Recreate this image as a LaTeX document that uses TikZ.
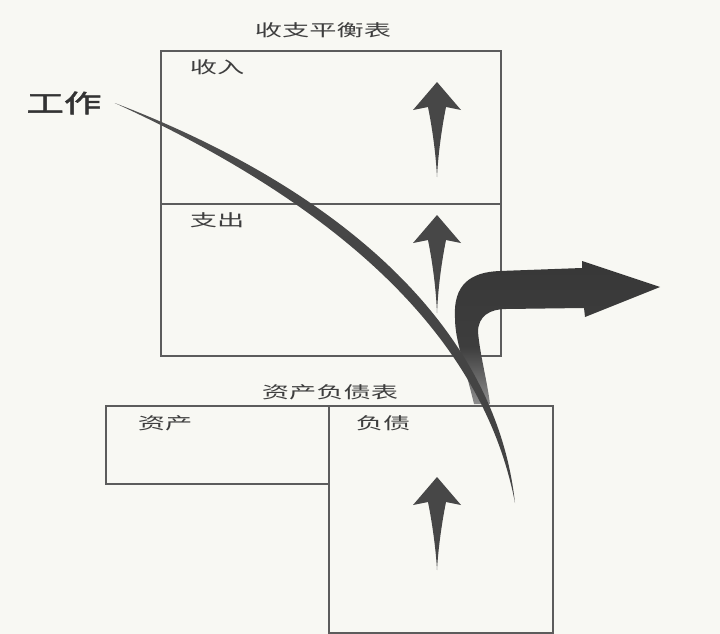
\documentclass[tikz,border=0pt]{standalone}
\usepackage{fontspec}
\usepackage{tikz}
\usetikzlibrary{positioning}
\newfontfamily\cjk[FakeStretch=1.65]{Noto Sans CJK SC}
\newfontfamily\cjkbold[FakeStretch=1.5,FakeBold=2]{Noto Sans CJK SC}
\definecolor{paper}{HTML}{F8F8F3}
\definecolor{ink}{HTML}{3E3E3E}
\definecolor{rule}{HTML}{5C5C5C}
\definecolor{arrowfill}{HTML}{474747}
\pgfdeclareverticalshading{swooshfade}{100bp}{color(0bp)=(black!10); color(28bp)=(black!74); color(65bp)=(black!72); color(100bp)=(black!58)}
\pgfdeclareverticalshading{bendfade}{100bp}{color(0bp)=(black!6); color(45bp)=(black!76); color(100bp)=(black!80)}
\tikzset{box/.style={draw=rule, line width=1.6pt, inner sep=0pt, anchor=north west}}
\tikzset{lbl/.style={font=\cjk\fontsize{16.5}{18}\selectfont, text=ink, inner sep=0pt}}
\tikzset{pics/uparr/.style={code={
  \fill[arrowfill] (0,0) -- (-24,28) -- (-9,25) .. controls (-4,50) and (-1,75) .. (0,#1)
    .. controls (1,75) and (4,50) .. (9,25) -- (24,28) -- cycle;}}}

\begin{document}
\begin{tikzpicture}[x=1pt,y=-1pt]
\fill[paper] (0,0) rectangle (720,634);
\useasboundingbox (0,0) rectangle (720,634);

% income statement
\node[box, minimum width=340pt, minimum height=153pt] (income) at (160,50) {};
\node[box, minimum width=340pt, minimum height=152pt] (expense) at (160,203) {};
\node[lbl] (inctitle) at (323,30) {收支平衡表};
\node[lbl] (inclbl) at (217,67) {收入};
\node[lbl] (explbl) at (217,220) {支出};

% balance sheet
\node[box, minimum width=223pt, minimum height=78pt] (assets) at (105,405) {};
\node[box, minimum width=224pt, minimum height=227pt] (liab) at (328,405) {};
\node[lbl] (baltitle) at (330,392) {资产负债表};
\node[lbl] (asslbl) at (165,423) {资产};
\node[lbl] (liablbl) at (383,423) {负债};

\node[lbl, font=\cjkbold\fontsize{25}{28}\selectfont, text=black!80] (work) at (64,103) {工作};

\pic (incup) at (437,82) {uparr=95};
\pic (expup) at (437,215) {uparr=98};
\pic (liabup) at (437,477) {uparr=93};

\shade[shading=bendfade] (474,404) .. controls (464,362) and (455,340) .. (455,318)
  .. controls (453,285) and (470,272) .. (500,271) -- (582,268) -- (582,261) -- (660,287)
  -- (585,317) -- (584,308) -- (506,309) .. controls (490,309) and (478,316) .. (478,332)
  .. controls (480,355) and (487,380) .. (490,404) -- cycle;

\coordinate (sw0) at ([xshift=13pt]work.east);
\coordinate (sw1) at (515,503);
\shade[shading=swooshfade] (sw0) .. controls (330,185) and (495,320) .. (sw1)
  .. controls (481,325) and (322,198) .. (sw0) -- cycle;
\end{tikzpicture}
\end{document}
